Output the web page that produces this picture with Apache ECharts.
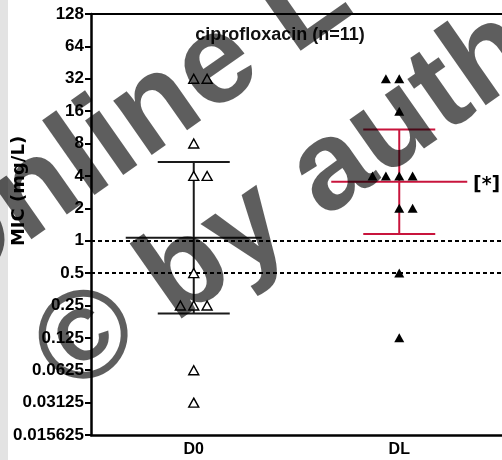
<!DOCTYPE html>
<html>
<head>
<meta charset="utf-8">
<script src="https://cdn.jsdelivr.net/npm/echarts@6/dist/echarts.min.js"></script>
<style>
  html, body { margin: 0; padding: 0; background: #ffffff; }
  #chart { width: 502px; height: 460px; }
</style>
</head>
<body>
<div id="chart"></div>
<script>
// MIC values (mg/L) of the 11 isolates at each time point
const groups = ['D0', 'DL'];
const micD0 = [32, 32, 8, 4, 4, 0.5, 0.25, 0.25, 0.25, 0.0625, 0.03125];
const micDL = [32, 32, 16, 4, 4, 4, 4, 2, 2, 0.5, 0.125];
// column slot of each point, so equal values sit side by side
const slotD0 = [0, 1, 0, 0, 1, 0, -1, 0, 1, 0, 0];
const slotDL = [-1, 0, 0, -2, -1, 0, 1, 0, 1, 0, 0];
// log2 tick labels from 2^-6 up to 2^7
const yTickLabels = ['0.015625', '0.03125', '0.0625', '0.125', '0.25', '0.5',
                     '1', '2', '4', '8', '16', '32', '64', '128'];
const breakpoints = [1, 0.5];
const panelTitle = 'ciprofloxacin (n=11)';
const markText = '[*]';
const yTitle = 'MIC (mg/L)';
const tCrit = 2.228; // two-sided 95 %, df = 10

// geometric mean with 95 % confidence interval, computed on log2 values
function geoStats(values) {
  const logs = values.map(v => Math.log2(v));
  const n = logs.length;
  const mean = logs.reduce((a, b) => a + b, 0) / n;
  const sd = Math.sqrt(logs.reduce((a, b) => a + (b - mean) * (b - mean), 0) / (n - 1));
  const half = tCrit * sd / Math.sqrt(n);
  return { mean: Math.pow(2, mean), lo: Math.pow(2, mean - half), hi: Math.pow(2, mean + half) };
}

const stats = [geoStats(micD0), geoStats(micDL)];
const barColors = ['#1a1a1a', '#c8143c'];
const slotStep = 0.065;

const chart = echarts.init(document.getElementById('chart'), null, { renderer: 'canvas' });

const labelFont = { fontFamily: 'Liberation Sans, Arial, sans-serif', fontWeight: 'bold', color: '#000' };
const wmFont = 'bold 126px "Liberation Sans", Arial, sans-serif';
const wmFill = 'rgba(0,0,0,0.63)';
const wmAngle = 35 * Math.PI / 180;

chart.setOption({
  animation: false,
  backgroundColor: '#ffffff',
  grid: { left: 91, right: -7, top: 14, bottom: 25, containLabel: false },
  xAxis: [
    {
      type: 'category',
      data: groups,
      position: 'bottom',
      axisLine: { onZero: false, lineStyle: { color: '#000', width: 2.5 } },
      axisTick: { alignWithLabel: true, length: 5, lineStyle: { color: '#000', width: 2 } },
      axisLabel: Object.assign({ fontSize: 16, margin: 7 }, labelFont),
      splitLine: { show: false }
    },
    {
      type: 'value',
      min: -0.5,
      max: 1.5,
      position: 'top',
      axisLine: { show: true, onZero: false, lineStyle: { color: '#000', width: 2 } },
      axisTick: { show: false },
      axisLabel: { show: false },
      splitLine: { show: false }
    }
  ],
  yAxis: {
    type: 'log',
    logBase: 2,
    min: 1 / 64,
    max: 128,
    interval: 1,
    axisLine: { show: true, onZero: false, lineStyle: { color: '#000', width: 2.5 } },
    axisTick: { show: true, length: 6, lineStyle: { color: '#000', width: 2 } },
    axisLabel: Object.assign({
      fontSize: 17,
      margin: 7,
      formatter: v => yTickLabels[Math.round(Math.log2(v)) + 6]
    }, labelFont),
    splitLine: { show: false }
  },
  series: [
    {
      type: 'custom',
      xAxisIndex: 1,
      yAxisIndex: 0,
      z: 3,
      data: stats.map((s, i) => [i, s.mean, s.lo, s.hi]),
      encode: { x: 0, y: [1, 2, 3] },
      renderItem: function (params, api) {
        const gx = api.value(0);
        const pm = api.coord([gx, api.value(1)]);
        const pl = api.coord([gx, api.value(2)]);
        const ph = api.coord([gx, api.value(3)]);
        const style = { stroke: barColors[params.dataIndex], lineWidth: 2 };
        const x = pm[0];
        return {
          type: 'group',
          children: [
            { type: 'line', shape: { x1: x, y1: ph[1], x2: x, y2: pl[1] }, style: style },
            { type: 'line', shape: { x1: x - 36, y1: ph[1], x2: x + 36, y2: ph[1] }, style: style },
            { type: 'line', shape: { x1: x - 36, y1: pl[1], x2: x + 36, y2: pl[1] }, style: style },
            { type: 'line', shape: { x1: x - 68, y1: pm[1], x2: x + 68, y2: pm[1] }, style: style }
          ]
        };
      }
    },
    {
      name: groups[0],
      type: 'scatter',
      xAxisIndex: 1,
      yAxisIndex: 0,
      z: 5,
      symbol: 'triangle',
      symbolSize: [10, 9],
      itemStyle: { color: '#ffffff', borderColor: '#000', borderWidth: 1.4, opacity: 1 },
      data: micD0.map((v, i) => [0 + slotD0[i] * slotStep, v]),
      markLine: {
        silent: true,
        symbol: 'none',
        label: { show: false },
        lineStyle: { color: '#000', width: 2, type: [4, 3] },
        data: breakpoints.map(b => ({ yAxis: b }))
      }
    },
    {
      name: groups[1],
      type: 'scatter',
      xAxisIndex: 1,
      yAxisIndex: 0,
      z: 5,
      symbol: 'triangle',
      symbolSize: [10, 9],
      itemStyle: { color: '#000', opacity: 1 },
      data: micDL.map((v, i) => [1 + slotDL[i] * slotStep, v])
    }
  ],
  graphic: [
    { type: 'rect', z: 0, shape: { x: 0, y: 0, width: 8, height: 460 }, style: { fill: '#e3e3e3' } },
    {
      type: 'text', z: 10, x: 280, y: 35,
      style: { text: panelTitle, font: 'bold 18px "Liberation Sans", Arial, sans-serif', fill: '#111', align: 'center', verticalAlign: 'middle' }
    },
    {
      type: 'text', z: 10, x: 473, y: 185,
      style: { text: markText, font: 'bold 19px "DejaVu Sans", sans-serif', fill: '#000', align: 'left', verticalAlign: 'middle' }
    },
    {
      type: 'text', z: 10, x: 19, y: 191, rotation: Math.PI / 2,
      style: { text: yTitle, font: 'bold 18px "DejaVu Sans", sans-serif', fill: '#000', align: 'center', verticalAlign: 'middle' }
    },
    {
      type: 'text', z: 50, x: -76, y: 272, rotation: wmAngle,
      style: { text: 'Online Le', font: wmFont, fill: wmFill, align: 'left', verticalAlign: 'middle' }
    },
    {
      type: 'text', z: 50, x: 50, y: 368, rotation: wmAngle,
      style: { text: '\u00A9 by auth', font: wmFont, fill: wmFill, align: 'left', verticalAlign: 'middle' }
    }
  ]
});
</script>
</body>
</html>
